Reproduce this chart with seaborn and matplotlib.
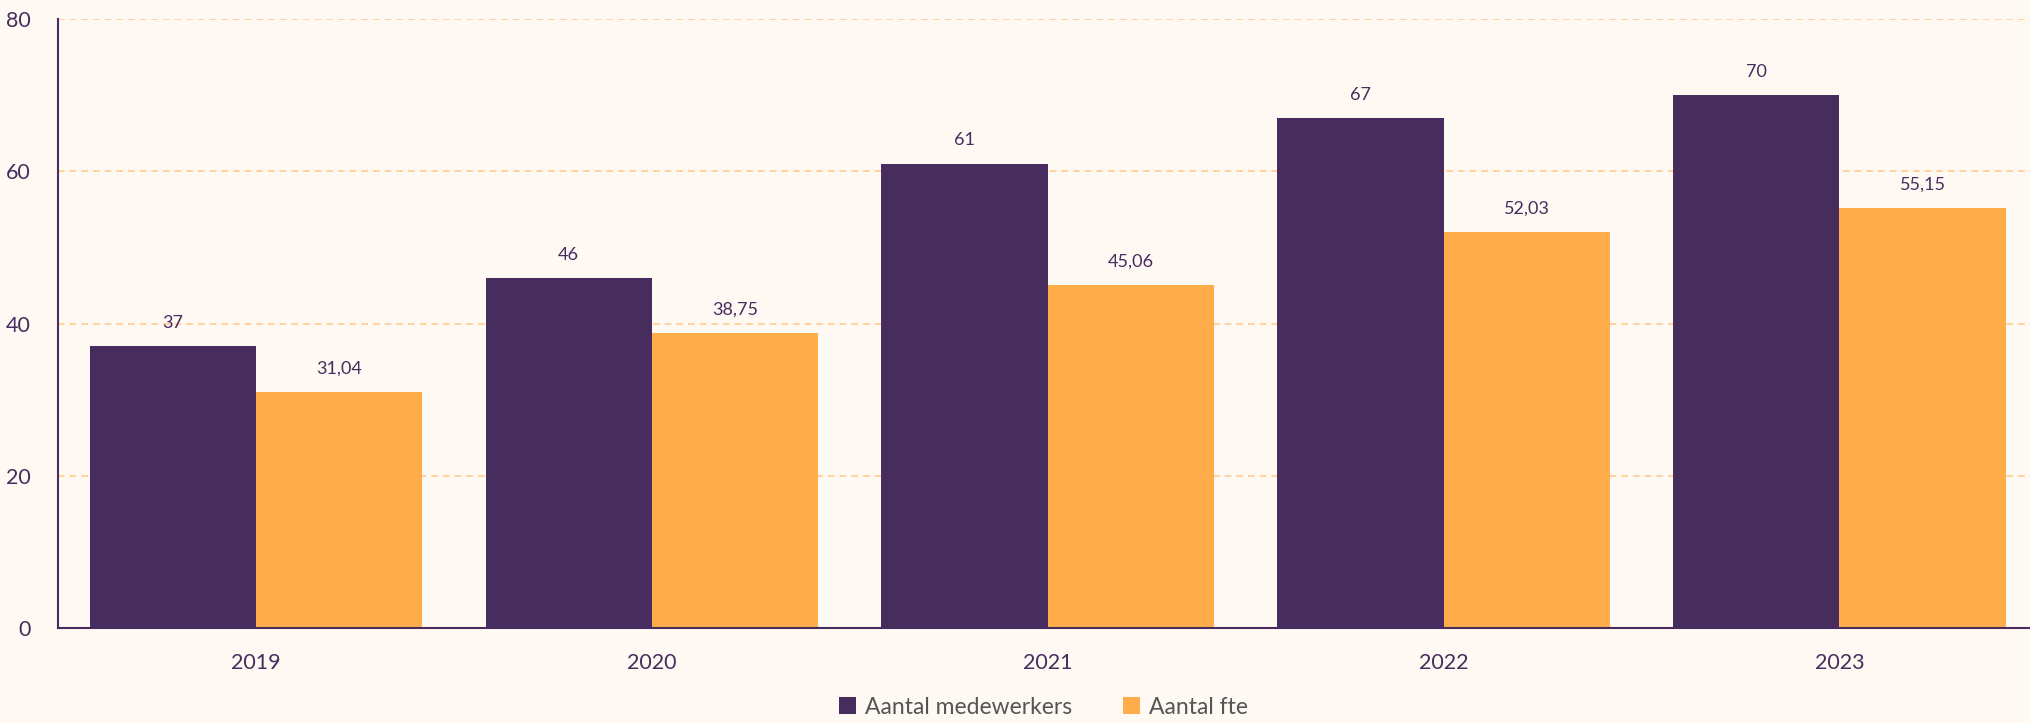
import matplotlib
matplotlib.use("Agg")
import matplotlib.pyplot as plt
import seaborn as sns
import pandas as pd
from matplotlib.patches import Patch

years = ["2019", "2020", "2021", "2022", "2023"]
medewerkers = [37, 46, 61, 67, 70]
fte = [31.04, 38.75, 45.06, 52.03, 55.15]
series_names = ["Aantal medewerkers", "Aantal fte"]
yticks = [0, 20, 40, 60, 80]

purple = "#472C5E"
orange = "#FFAC4B"
bg = "#FFF9F3"
grid_c = "#FFCB8E"

sns.set_theme(style="white")
plt.rcParams["font.family"] = ["Lato", "DejaVu Sans"]

df = pd.DataFrame({
    "jaar": years * 2,
    "waarde": medewerkers + fte,
    "reeks": [series_names[0]] * len(years) + [series_names[1]] * len(years),
})

fig = plt.figure(figsize=(20.3, 7.23), dpi=100, facecolor=bg)
ax = fig.add_axes([0.0286, 0.1314, 0.975, 0.8423])
ax.set_facecolor(bg)

sns.barplot(data=df, x="jaar", y="waarde", hue="reeks", palette=[purple, orange],
            width=0.84, gap=0, saturation=1, ax=ax, legend=False, errorbar=None,
            linewidth=0, edgecolor="none")

for c in ax.containers:
    labels = []
    for v in c.datavalues:
        if float(v).is_integer():
            labels.append(f"{int(v)}")
        else:
            labels.append(f"{v:.2f}".replace(".", ","))
    ax.bar_label(c, labels=labels, padding=11, fontsize=13, color=purple)

ax.set_ylim(0, 80)
ax.set_xlim(-0.5, 4.5)
ax.set_yticks(yticks)
ax.yaxis.grid(True, linestyle=(0, (4, 3)), color=grid_c, linewidth=1.2)
ax.set_axisbelow(True)
for t in ax.get_ygridlines()[:1]:
    t.set_visible(False)

ax.tick_params(axis="y", length=0, pad=20, labelsize=15.5, labelcolor=purple)
ax.tick_params(axis="x", length=0, pad=18, labelsize=15.5, labelcolor=purple)
ax.set_xlabel("")
ax.set_ylabel("")

for s in ["top", "right"]:
    ax.spines[s].set_visible(False)
for s in ["left", "bottom"]:
    ax.spines[s].set_color(purple)
    ax.spines[s].set_linewidth(1.5)

handles = [Patch(facecolor=purple, edgecolor="none"), Patch(facecolor=orange, edgecolor="none")]
fig.legend(handles, series_names, loc="center", bbox_to_anchor=(0.514, 0.022),
           ncol=2, frameon=False, fontsize=16.5, labelcolor="#555555",
           handlelength=0.75, handleheight=0.75, handletextpad=0.4, columnspacing=2.2)

fig.savefig("out.png", dpi=100, facecolor=bg)
